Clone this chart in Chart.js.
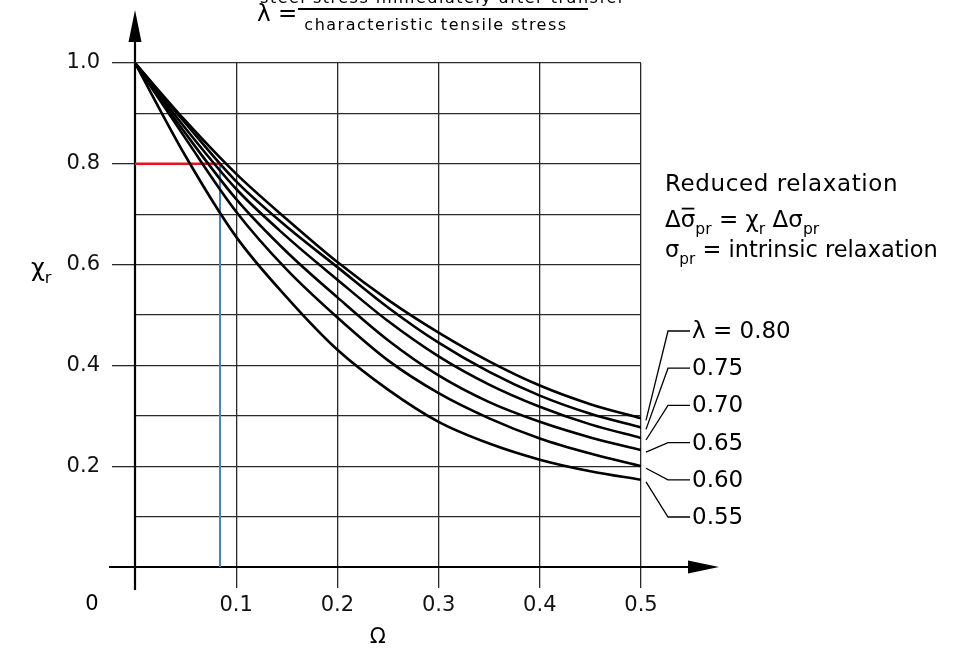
<!DOCTYPE html>
<html lang="en">
<head>
<meta charset="UTF-8">
<title>Reduced relaxation coefficient</title>
<script src="https://cdn.jsdelivr.net/npm/chart.js"></script>
<style>
  html, body { margin: 0; padding: 0; background: #fff; }
  #wrap { width: 954px; height: 649px; position: relative; }
</style>
</head>
<body>
<div id="wrap"><canvas id="chiChart"></canvas></div>
<script>
// values (Omega on x, chi_r on y)
const omega = [0, 0.05, 0.1, 0.15, 0.2, 0.25, 0.3, 0.35, 0.4, 0.45, 0.5];
const lambdas = ['0.80', '0.75', '0.70', '0.65', '0.60', '0.55'];
const chi080 = [1.0, 0.885, 0.78, 0.69, 0.605, 0.53, 0.465, 0.408, 0.36, 0.323, 0.295];
const chi075 = [1.0, 0.88, 0.765, 0.675, 0.595, 0.515, 0.445, 0.387, 0.34, 0.304, 0.277];
const chi070 = [1.0, 0.87, 0.75, 0.655, 0.57, 0.488, 0.418, 0.362, 0.318, 0.283, 0.256];
const chi065 = [1.0, 0.86, 0.73, 0.625, 0.535, 0.45, 0.38, 0.327, 0.288, 0.257, 0.232];
const chi060 = [1.0, 0.85, 0.705, 0.59, 0.495, 0.41, 0.345, 0.295, 0.255, 0.225, 0.200];
const chi055 = [1.0, 0.815, 0.655, 0.535, 0.431, 0.352, 0.288, 0.245, 0.213, 0.19, 0.173];
const xTickLabels = ['0.1', '0.2', '0.3', '0.4', '0.5'];
const yTickLabels = ['0.2', '0.4', '0.6', '0.8', '1.0'];
// worked example: read chi_r = 0.8 at Omega = 0.084
const guideOmega = 0.084;
const guideChi = 0.8;

const FONT = 'DejaVu Sans';
const curves = [chi080, chi075, chi070, chi065, chi060, chi055];

const datasets = curves.map((vals, i) => ({
    label: 'λ = ' + lambdas[i],
    data: omega.map((x, j) => ({ x: x, y: vals[j] })),
    borderColor: '#000',
    borderWidth: 2.6,
    pointRadius: 0,
    cubicInterpolationMode: 'monotone',
    fill: false
}));
datasets.push({
    label: 'guide h',
    data: [{ x: 0, y: guideChi }, { x: guideOmega, y: guideChi }],
    borderColor: '#e3161d',
    borderWidth: 2.4,
    pointRadius: 0,
    clip: false
});
datasets.push({
    label: 'guide v',
    data: [{ x: guideOmega, y: guideChi }, { x: guideOmega, y: 0 }],
    borderColor: '#4a82c6',
    borderWidth: 2,
    pointRadius: 0,
    clip: false
});

// draws text with subscripts / overbars, returns end x
function drawRich(ctx, x, y, parts, size) {
    parts.forEach(p => {
        const s = p.sub ? size * 0.68 : size;
        ctx.font = s + 'px "' + FONT + '"';
        const dy = p.sub ? size * 0.3 : 0;
        ctx.fillText(p.t, x, y + dy);
        const w = ctx.measureText(p.t).width;
        if (p.bar) {
            ctx.beginPath();
            ctx.lineWidth = 1.8;
            ctx.moveTo(x + 1, y - size * 0.8);
            ctx.lineTo(x + w - 1, y - size * 0.8);
            ctx.stroke();
        }
        x += w;
    });
    return x;
}

const decor = {
    id: 'decor',
    beforeDatasetsDraw(chart) {
        const ctx = chart.ctx;
        const xs = chart.scales.x, ys = chart.scales.y;
        const x0 = xs.getPixelForValue(0), y0 = ys.getPixelForValue(0);
        ctx.save();
        ctx.strokeStyle = '#000';
        ctx.fillStyle = '#000';
        ctx.lineWidth = 2.2;
        // y axis with arrow
        ctx.beginPath();
        ctx.moveTo(x0, y0 + 23);
        ctx.lineTo(x0, 36);
        ctx.stroke();
        ctx.beginPath();
        ctx.moveTo(x0, 10);
        ctx.lineTo(x0 - 6.5, 42);
        ctx.lineTo(x0 + 6.5, 42);
        ctx.closePath();
        ctx.fill();
        // x axis with arrow
        ctx.beginPath();
        ctx.moveTo(x0 - 26, y0);
        ctx.lineTo(692, y0);
        ctx.stroke();
        ctx.beginPath();
        ctx.moveTo(719, y0);
        ctx.lineTo(688, y0 - 6.5);
        ctx.lineTo(688, y0 + 6.5);
        ctx.closePath();
        ctx.fill();
        ctx.restore();
    },
    afterDraw(chart) {
        const ctx = chart.ctx;
        const xs = chart.scales.x, ys = chart.scales.y;
        const x0 = xs.getPixelForValue(0), y0 = ys.getPixelForValue(0);
        const xEnd = xs.getPixelForValue(omega[omega.length - 1]);
        ctx.save();
        ctx.fillStyle = '#000';
        ctx.strokeStyle = '#000';

        // leader lines and curve labels
        ctx.lineWidth = 1.3;
        ctx.textBaseline = 'middle';
        ctx.font = '23px "' + FONT + '"';
        curves.forEach((vals, i) => {
            const yv = ys.getPixelForValue(vals[vals.length - 1]);
            const ly = 331 + i * 37.2;
            ctx.beginPath();
            ctx.moveTo(xEnd + 5, yv + 2);
            ctx.lineTo(xEnd + 27, ly);
            ctx.lineTo(xEnd + 49, ly);
            ctx.stroke();
            ctx.fillText(i === 0 ? 'λ = ' + lambdas[i] : lambdas[i], xEnd + 51, ly + 1);
        });

        // origin label and x title
        ctx.font = '21px "' + FONT + '"';
        ctx.textAlign = 'center';
        ctx.fillText('0', x0 - 43, y0 + 38);
        ctx.fillText('Ω', xs.getPixelForValue(0.24), y0 + 71);

        // y axis title chi_r
        ctx.textAlign = 'left';
        ctx.textBaseline = 'alphabetic';
        drawRich(ctx, 31, 276, [{ t: 'χ' }, { t: 'r', sub: true }], 24);

        // note on the right
        ctx.letterSpacing = '0.6px';
        drawRich(ctx, 665, 191, [{ t: 'Reduced relaxation' }], 23);
        ctx.letterSpacing = '0px';
        drawRich(ctx, 665, 227, [
            { t: 'Δ' }, { t: 'σ', bar: true }, { t: 'pr', sub: true },
            { t: ' = χ' }, { t: 'r', sub: true }, { t: ' Δσ' }, { t: 'pr', sub: true }
        ], 23);
        drawRich(ctx, 665, 257, [{ t: 'σ' }, { t: 'pr', sub: true }, { t: ' = intrinsic relaxation' }], 22.5);

        // lambda definition at the top (numerator cut off by the frame)
        ctx.font = '23px "' + FONT + '"';
        ctx.fillText('λ =', 257, 21);
        ctx.lineWidth = 2;
        ctx.beginPath();
        ctx.moveTo(298, 9);
        ctx.lineTo(588, 9);
        ctx.stroke();
        ctx.letterSpacing = '1.5px';
        ctx.font = '16px "' + FONT + '"';
        ctx.textAlign = 'center';
        ctx.fillText('steel stress immediately after transfer', 443, 3);
        ctx.fillText('characteristic tensile stress', 436, 30);
        ctx.restore();
    }
};

new Chart(document.getElementById('chiChart'), {
    type: 'line',
    data: { datasets: datasets },
    options: {
        responsive: true,
        maintainAspectRatio: false,
        animation: false,
        layout: { padding: { left: 0, top: 63, right: 313, bottom: 0 } },
        plugins: { legend: { display: false }, tooltip: { enabled: false } },
        scales: {
            x: {
                type: 'linear',
                min: 0,
                max: 0.5,
                border: { display: false },
                grid: {
                    color: c => (c.tick && c.tick.value === 0) ? 'rgba(0,0,0,0)' : '#2a2a2a',
                    lineWidth: 1.3,
                    tickLength: 21
                },
                ticks: {
                    stepSize: 0.1,
                    autoSkip: false,
                    maxRotation: 0,
                    padding: 5,
                    color: '#111',
                    font: { family: FONT, size: 21 },
                    callback: v => {
                        const s = Number(v).toFixed(1);
                        return xTickLabels.includes(s) ? s : '';
                    }
                },
                afterFit: s => { s.height = 82; }
            },
            y: {
                min: 0,
                max: 1,
                border: { display: false },
                grid: {
                    color: c => (c.tick && c.tick.value === 0) ? 'rgba(0,0,0,0)' : '#2a2a2a',
                    tickColor: c => {
                        const s = Number(c.tick.value).toFixed(1);
                        return yTickLabels.includes(s) ? '#2a2a2a' : 'rgba(0,0,0,0)';
                    },
                    lineWidth: 1.3,
                    tickLength: 23
                },
                ticks: {
                    stepSize: 0.1,
                    autoSkip: false,
                    padding: 12,
                    color: '#111',
                    font: { family: FONT, size: 21 },
                    callback: v => {
                        const s = Number(v).toFixed(1);
                        return yTickLabels.includes(s) ? s : '';
                    }
                },
                afterFit: s => { s.width = 135; }
            }
        }
    },
    plugins: [decor]
});
</script>
</body>
</html>
